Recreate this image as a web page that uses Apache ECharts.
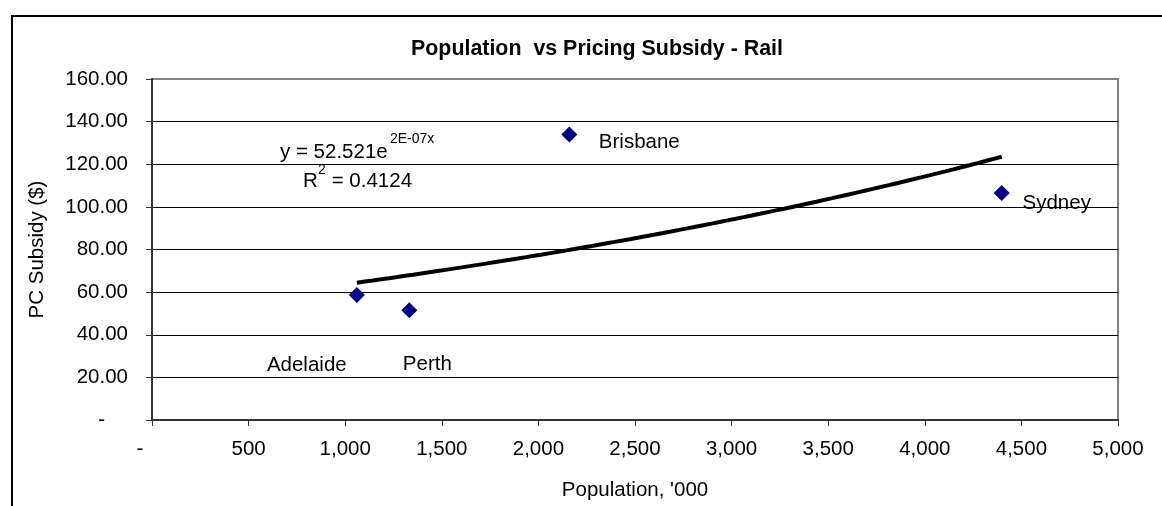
<!DOCTYPE html>
<html>
<head>
<meta charset="utf-8">
<script src="https://cdn.jsdelivr.net/npm/echarts@6/dist/echarts.min.js"></script>
<style>
  html, body { margin: 0; padding: 0; background: #fff; }
  #chart { width: 1162px; height: 506px; }
</style>
</head>
<body>
<div id="chart"></div>
<script>
// data
var cities = ['Adelaide', 'Perth', 'Brisbane', 'Sydney'];
var population = [1060, 1332, 2160, 4398];   // '000
var subsidy = [58.7, 51.5, 134.0, 106.5];     // PC subsidy ($)

// trendline text as printed on the chart
var eqText = 'y = 52.521e';
var eqSup = '2E-07x';
var r2Text = ' = 0.4124';

// where the city labels were dragged to (px from the marker)
var labelOffsets = {
  Adelaide: [-50, 70],
  Perth: [18, 54],
  Brisbane: [70, 8],
  Sydney: [55, 10]
};

var FONT = 'Liberation Sans, Arial, sans-serif';
var FS = 20.5;

// exponential trend, least squares on ln(y) like the spreadsheet does
function expFit(xs, ys) {
  var n = xs.length, mx = 0, ml = 0;
  var ls = ys.map(function (v) { return Math.log(v); });
  for (var i = 0; i < n; i++) { mx += xs[i]; ml += ls[i]; }
  mx /= n; ml /= n;
  var sxy = 0, sxx = 0;
  for (var j = 0; j < n; j++) {
    sxy += (xs[j] - mx) * (ls[j] - ml);
    sxx += (xs[j] - mx) * (xs[j] - mx);
  }
  var k = sxy / sxx;
  return { a: Math.exp(ml - k * mx), k: k };
}

var fit = expFit(population, subsidy);
var xMin = Math.min.apply(null, population);
var xMax = Math.max.apply(null, population);
var trend = [];
for (var s = 0; s <= 80; s++) {
  var xv = xMin + (xMax - xMin) * s / 80;
  trend.push([xv, fit.a * Math.exp(fit.k * xv)]);
}

var points = cities.map(function (c, i) {
  return {
    name: c,
    value: [population[i], subsidy[i]],
    label: { offset: labelOffsets[c] }
  };
});

var chart = echarts.init(document.getElementById('chart'));

chart.setOption({
  animation: false,
  backgroundColor: '#fff',
  textStyle: { fontFamily: FONT },
  title: {
    text: 'Population  vs Pricing Subsidy - Rail',
    left: 592,
    top: 34,
    textAlign: 'center',
    textStyle: { fontFamily: FONT, fontSize: 21.4, fontWeight: 'bold', color: '#000' }
  },
  grid: {
    left: 152,
    right: 44,
    top: 79,
    bottom: 83,
    show: true,
    borderColor: '#808080',
    borderWidth: 2
  },
  xAxis: {
    type: 'value',
    min: 0,
    max: 5000,
    interval: 500,
    name: "Population, '000",
    nameLocation: 'middle',
    nameGap: 60,
    nameTextStyle: { fontFamily: FONT, fontSize: FS, color: '#000' },
    axisLine: { lineStyle: { color: '#333', width: 2 } },
    axisTick: { show: true, length: 6, lineStyle: { color: '#333', width: 1 } },
    axisLabel: {
      margin: 19,
      fontFamily: FONT,
      fontSize: FS,
      color: '#000',
      formatter: function (v) {
        return v === 0 ? '{z|-}' : v.toLocaleString('en-US');
      },
      rich: { z: { fontFamily: FONT, fontSize: FS, color: '#000', padding: [0, 24, 0, 0] } }
    },
    splitLine: { show: false }
  },
  yAxis: {
    type: 'value',
    min: 0,
    max: 160,
    interval: 20,
    name: 'PC Subsidy ($)',
    nameLocation: 'middle',
    nameRotate: 90,
    nameGap: 104,
    nameTextStyle: { fontFamily: FONT, fontSize: FS, color: '#000' },
    axisLine: { show: true, lineStyle: { color: '#333', width: 2 } },
    axisTick: { show: true, length: 6, lineStyle: { color: '#333', width: 1 } },
    axisLabel: {
      margin: 24,
      fontFamily: FONT,
      fontSize: FS,
      color: '#000',
      formatter: function (v) {
        return v === 0 ? '{z|-}' : v.toFixed(2);
      },
      rich: { z: { fontFamily: FONT, fontSize: FS, color: '#000', padding: [0, 23, 0, 0] } }
    },
    splitLine: {
      show: true,
      showMinLine: false,
      showMaxLine: false,
      lineStyle: { color: '#000', width: 1 }
    }
  },
  series: [
    {
      name: 'Trend',
      type: 'line',
      data: trend,
      showSymbol: false,
      symbol: 'none',
      smooth: false,
      lineStyle: { color: '#000', width: 4 },
      z: 3
    },
    {
      name: 'Cities',
      type: 'scatter',
      data: points,
      symbol: 'diamond',
      symbolSize: 16,
      itemStyle: { color: '#000080', opacity: 1 },
      label: {
        show: true,
        position: 'inside',
        formatter: '{b}',
        fontFamily: FONT,
        fontSize: FS,
        color: '#000',
        opacity: 1
      },
      z: 4
    }
  ],
  graphic: [
    {
      type: 'rect',
      shape: { x: 12, y: 16, width: 1200, height: 600 },
      style: { fill: 'none', stroke: '#000', lineWidth: 2 },
      silent: true
    },
    {
      type: 'group',
      left: 280,
      top: 132,
      children: [
        { type: 'text', x: 0, y: 11, style: { text: eqText, font: FS + 'px ' + FONT, fill: '#000' } },
        { type: 'text', x: 110, y: 1, style: { text: eqSup, font: '14px ' + FONT, fill: '#000' } },
        { type: 'text', x: 23, y: 40, style: { text: 'R', font: FS + 'px ' + FONT, fill: '#000' } },
        { type: 'text', x: 38, y: 32, style: { text: '2', font: '14px ' + FONT, fill: '#000' } },
        { type: 'text', x: 46, y: 40, style: { text: r2Text, font: FS + 'px ' + FONT, fill: '#000' } }
      ]
    }
  ]
});
</script>
</body>
</html>
